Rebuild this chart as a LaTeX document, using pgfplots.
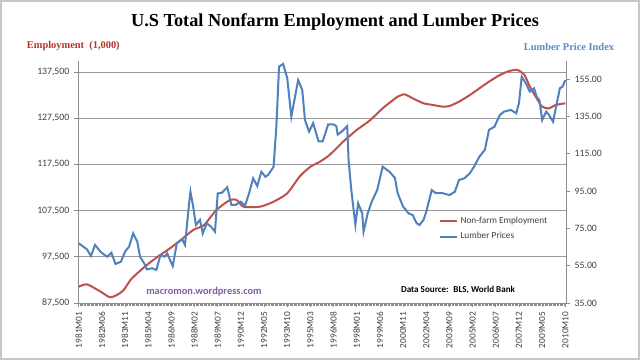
\documentclass[border=0pt]{standalone}
\usepackage{fontspec}
\usepackage{pgfplots}
\pgfplotsset{compat=1.18}
\setmainfont{Carlito}
\newfontfamily\seriffont{Liberation Serif}
\definecolor{empred}{HTML}{C0504D}
\definecolor{emptitle}{HTML}{B8342C}
\definecolor{lumblue}{HTML}{4F81BD}
\definecolor{lumtitle}{HTML}{5B8AC4}
\definecolor{wmpurple}{HTML}{7E5FA6}
\definecolor{ticktext}{HTML}{404040}

\pgfplotstableread{
idx emp
0 91030
6 91550
14 90310
18 89600
23 88730
28 89230
33 90310
38 92480
43 93930
50 95730
58 97520
67 99340
75 101140
84 103300
92 104380
101 107630
111 109790
116 109790
121 108340
133 108340
143 109430
153 111240
162 114840
170 117000
177 118080
184 119530
194 122410
204 124950
214 127110
223 129640
231 131500
234 132160
239 132670
245 131810
253 130720
260 130360
267 129990
272 130140
279 131070
287 132520
294 133970
301 135400
309 136850
316 137720
322 137930
327 136850
331 134320
336 131810
340 129990
345 129640
350 130360
357 130720
}\emptable

\pgfplotstableread{
idx lum
0 67.0
4 64.8
6 63.8
9 60.2
12 66.1
16 62.5
19 60.7
21 59.8
24 61.9
27 55.9
31 57.1
34 62.5
37 65.2
40 72.3
43 67.8
45 59.8
48 56.3
50 53.0
54 53.6
57 52.7
60 60.7
63 59.8
65 61.6
67 58.0
69 54.8
72 67.0
76 69.1
78 66.1
81 88.4
82 94.6
84 86.6
86 76.8
89 79.5
91 72.3
94 77.7
97 75.9
100 73.2
102 93.7
105 94.0
109 97.0
112 87.5
115 87.5
119 89.3
122 87.0
125 93.8
128 101.8
131 97.7
134 105.3
137 102.6
139 103.6
143 108.0
145 129.4
147 161.6
150 163.0
153 155.4
156 134.8
161 154.4
164 149.1
166 133.0
169 126.8
172 131.3
176 121.5
179 121.5
183 130.6
187 130.6
189 129.7
190 125.2
193 126.8
197 129.7
198 111.6
200 95.5
203 76.8
205 88.4
208 83.0
209 73.2
212 83.0
215 89.3
219 95.5
223 108.0
228 105.3
232 102.0
234 93.8
238 86.6
242 83.0
245 82.1
248 77.7
250 76.8
253 79.5
255 83.9
259 95.5
262 93.8
267 93.8
272 92.8
276 94.6
279 100.9
283 101.8
287 104.5
290 108.0
294 113.4
298 117.0
301 127.7
305 129.4
309 135.7
312 137.5
317 138.4
321 136.6
323 142.0
325 156.2
328 152.7
331 148.2
334 150.0
336 145.5
338 143.7
340 133.0
343 137.5
345 135.7
348 132.1
350 139.3
353 150.0
355 150.9
357 154.4
}\lumtable

\begin{document}
\begin{tikzpicture}
\fill[white] (0,0) rectangle (480pt,270pt);
\draw[black!22, line width=1.5pt] (0.75pt,0.75pt) rectangle (479.25pt,269.25pt);

\begin{axis}[
  at={(58.5pt,42.75pt)}, anchor=south west,
  width=366pt, height=181.5pt, scale only axis,
  xmin=-0.5, xmax=357.5,
  ymin=87500, ymax=139880,
  scaled y ticks=false,
  axis y line*=left, axis x line*=bottom,
  axis line style={black!45, line width=0.6pt},
  ytick={87500,97500,107500,117500,127500,137500},
  yticklabels={{87,500},{97,500},{107,500},{117,500},{127,500},{137,500}},
  ymajorgrids, grid style={black!40, line width=0.6pt},
  xtick={0,17,...,357},
  xticklabels={1981M01,1982M06,1983M11,1985M04,1986M09,1988M02,1989M07,1990M12,1992M05,1993M10,1995M03,1996M08,1998M01,1999M06,2000M11,2002M04,2003M09,2005M02,2006M07,2007M12,2009M05,2010M10},
  minor x tick num=16,
  tick align=outside,
  tick style={black!45, line width=0.5pt},
  major tick length=3pt, minor tick length=2pt,
  x tick label style={rotate=90, anchor=east, font=\fontsize{7}{8}\selectfont, text=ticktext},
  y tick label style={font=\fontsize{7.3}{8}\selectfont, text=ticktext},
]
\addplot[empred, line width=1.5pt, smooth, tension=0.4] table[x=idx, y=emp] {\emptable};
\end{axis}

\begin{axis}[
  at={(58.5pt,42.75pt)}, anchor=south west,
  width=366pt, height=181.5pt, scale only axis,
  xmin=-0.5, xmax=357.5,
  ymin=35, ymax=164.6,
  axis y line*=right, axis x line=none,
  axis line style={black!45, line width=0.6pt},
  ytick={35,55,...,155},
  tick align=outside,
  tick style={black!45, line width=0.5pt},
  major tick length=3pt,
  y tick label style={font=\fontsize{7.3}{8}\selectfont, text=ticktext, /pgf/number format/.cd, fixed, fixed zerofill, precision=2, assume math mode=true},
  legend style={at={(0.73,0.38)}, anchor=north west, draw=none, fill=none,
    font=\fontsize{7}{8}\selectfont, row sep=1.5pt, text=ticktext},
  legend cell align=left,
  legend image code/.code={\draw[#1] (0pt,0pt) -- (13pt,0pt);},
]
\addlegendimage{empred, line width=1.5pt}
\addlegendentry{Non-farm Employment}
\addplot[lumblue, line width=1.5pt] table[x=idx, y=lum] {\lumtable};
\addlegendentry{Lumber Prices}
\end{axis}

\node[font=\seriffont\bfseries\fontsize{13.7}{15}\selectfont] at (251.25pt,253.5pt) {U.S Total Nonfarm Employment and Lumber Prices};
\node[font=\seriffont\bfseries\fontsize{7.8}{9}\selectfont, text=emptitle] at (55pt,235.5pt) {Employment~ (1,000)};
\node[font=\seriffont\bfseries\fontsize{7.8}{9}\selectfont, text=lumtitle] at (426.75pt,234.75pt) {Lumber Price Index};
\node[font=\bfseries\fontsize{7.8}{9}\selectfont, text=wmpurple] at (153pt,51pt) {macromon.wordpress.com};
\node[font=\bfseries\fontsize{6.8}{8}\selectfont, text=black] at (343.5pt,52.5pt) {Data Source:~ BLS, World Bank};
\end{tikzpicture}
\end{document}
